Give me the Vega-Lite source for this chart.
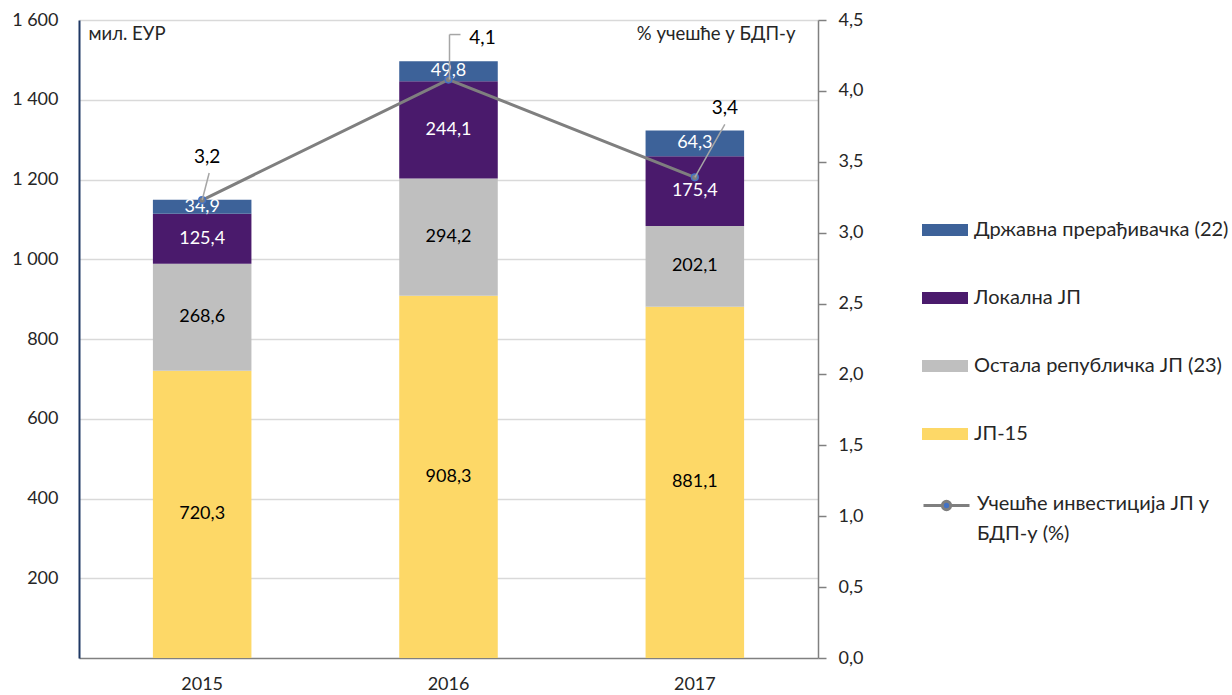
{
  "$schema": "https://vega.github.io/schema/vega-lite/v6.json",
  "width": 739,
  "height": 638,
  "autosize": {"type": "none"},
  "padding": {"left": 79, "top": 20, "right": 414, "bottom": 37},
  "background": "white",
  "config": {
    "font": "Lato",
    "view": {"stroke": null},
    "locale": {"number": {"decimal": ",", "thousands": " ", "grouping": [3], "currency": ["", ""]}},
    "axis": {"labelFont": "Lato", "labelFontSize": 18, "labelColor": "#262626", "titleFont": "Lato", "titleFontWeight": "normal", "titleFontSize": 18.5, "titleColor": "#262626"},
    "legend": {"labelFont": "Lato", "labelFontSize": 20, "labelColor": "#262626"}
  },
  "datasets": {
    "bars": [
      {"year": "2015", "series": "ЈП-15", "value": 720.3, "ord": 1},
      {"year": "2015", "series": "Остала републичка ЈП (23)", "value": 268.6, "ord": 2},
      {"year": "2015", "series": "Локална ЈП", "value": 125.4, "ord": 3},
      {"year": "2015", "series": "Државна прерађивачка (22)", "value": 34.9, "ord": 4},
      {"year": "2016", "series": "ЈП-15", "value": 908.3, "ord": 1},
      {"year": "2016", "series": "Остала републичка ЈП (23)", "value": 294.2, "ord": 2},
      {"year": "2016", "series": "Локална ЈП", "value": 244.1, "ord": 3},
      {"year": "2016", "series": "Државна прерађивачка (22)", "value": 49.8, "ord": 4},
      {"year": "2017", "series": "ЈП-15", "value": 881.1, "ord": 1},
      {"year": "2017", "series": "Остала републичка ЈП (23)", "value": 202.1, "ord": 2},
      {"year": "2017", "series": "Локална ЈП", "value": 175.4, "ord": 3},
      {"year": "2017", "series": "Државна прерађивачка (22)", "value": 64.3, "ord": 4}
    ],
    "line": [
      {"year": "2015", "pct": 3.23},
      {"year": "2016", "pct": 4.08},
      {"year": "2017", "pct": 3.39}
    ]
  },
  "encoding": {
    "x": {
      "field": "year", "type": "nominal",
      "scale": {"paddingInner": 0, "paddingOuter": 0},
      "axis": {"title": null, "labelAngle": 0, "ticks": false, "domainColor": "#808080", "domainWidth": 1.5, "labelPadding": 17, "grid": false}
    }
  },
  "layer": [
    {
      "data": {"name": "bars"},
      "layer": [
        {
          "mark": {"type": "bar", "width": {"band": 0.4}},
          "encoding": {
            "y": {
              "field": "value", "type": "quantitative", "stack": "zero",
              "scale": {"domain": [0, 1600], "nice": false},
              "axis": {
                "orient": "left", "values": [200, 400, 600, 800, 1000, 1200, 1400, 1600], "format": ",d",
                "ticks": false, "labelPadding": 21, "domainColor": "#1F3864", "domainWidth": 2,
                "grid": true, "gridColor": "#D9D9D9", "gridWidth": 1.5,
                "title": "мил. ЕУР", "titleAngle": 0, "titleAlign": "left", "titleBaseline": "top", "titleX": 9, "titleY": 4
              }
            },
            "color": {
              "field": "series", "type": "nominal",
              "scale": {
                "domain": ["Државна прерађивачка (22)", "Локална ЈП", "Остала републичка ЈП (23)", "ЈП-15"],
                "range": ["#3D6299", "#4A1A6C", "#BFBFBF", "#FDD867"]
              },
              "legend": {
                "title": null, "orient": "none", "legendX": 843, "legendY": 187,
                "symbolType": "M-1,-0.26H1V0.26H-1Z", "symbolSize": 2116, "symbolStrokeWidth": 0,
                "labelOffset": 6, "rowPadding": 35, "labelLimit": 400
              }
            },
            "order": {"field": "ord", "type": "quantitative"}
          }
        },
        {
          "mark": {"type": "text", "fontSize": 18, "baseline": "middle"},
          "encoding": {
            "y": {"field": "value", "type": "quantitative", "stack": "zero", "bandPosition": 0.5},
            "detail": {"field": "series"},
            "order": {"field": "ord", "type": "quantitative"},
            "text": {"field": "value", "type": "quantitative", "format": ".1f"},
            "color": {"condition": {"test": "datum.ord <= 2", "value": "#000000"}, "value": "#FFFFFF"}
          }
        }
      ]
    },
    {
      "data": {"name": "line"},
      "encoding": {
        "y": {
          "field": "pct", "type": "quantitative",
          "scale": {"domain": [0, 4.5], "nice": false},
          "axis": {
            "orient": "right", "values": [0, 0.5, 1, 1.5, 2, 2.5, 3, 3.5, 4, 4.5], "format": ".1f",
            "tickSize": 8, "tickColor": "#808080", "tickWidth": 1.5, "labelPadding": 12,
            "domainColor": "#808080", "domainWidth": 1.5, "grid": false,
            "title": "% учешће у БДП-у", "titleAngle": 0, "titleAlign": "right", "titleBaseline": "top", "titleX": -23, "titleY": 4
          }
        }
      },
      "layer": [
        {
          "mark": {"type": "line", "strokeWidth": 3, "color": "#7F7F7F"},
          "encoding": {
            "stroke": {
              "datum": "Учешће инвестиција ЈП у БДП-у (%)",
              "scale": {"range": ["#7F7F7F"]},
              "legend": {
                "title": null, "orient": "none", "legendX": 843, "legendY": 461,
                "symbolType": "M-1,0H-0.18M0.18,0H1M0.18,0A0.18,0.18 0 1 1 -0.18,0A0.18,0.18 0 1 1 0.18,0",
                "symbolSize": 2116, "symbolStrokeWidth": 3, "labelOffset": 6, "labelLimit": 400,
                "labelExpr": "['Учешће инвестиција ЈП у', 'БДП-у (%)']",
                "encode": {
                  "symbols": {"update": {"fill": {"value": "#4472C4"}}},
                  "labels": {"update": {"baseline": {"value": "top"}, "dy": {"value": -12}, "lineHeight": {"value": 30}}}
                }
              }
            }
          }
        },
        {
          "mark": {"type": "point", "filled": true, "size": 45, "fill": "#7F7F7F", "stroke": "#4472C4", "strokeWidth": 1.5, "opacity": 1}
        },
        {
          "transform": [{"filter": "datum.year == '2015'"}],
          "mark": {"type": "rule", "color": "#A6A6A6", "strokeWidth": 1.5, "x2Offset": 7, "y2Offset": -27},
          "encoding": {"y2": {"field": "pct"}, "x2": {"field": "year"}}
        },
        {
          "transform": [{"filter": "datum.year == '2016'"}],
          "mark": {"type": "rule", "color": "#A6A6A6", "strokeWidth": 1.5, "xOffset": 1, "x2Offset": 1, "y2Offset": -45},
          "encoding": {"y2": {"field": "pct"}, "x2": {"field": "year"}}
        },
        {
          "transform": [{"filter": "datum.year == '2016'"}],
          "mark": {"type": "rule", "color": "#A6A6A6", "strokeWidth": 1.5, "xOffset": 1, "x2Offset": 12, "yOffset": -45, "y2Offset": -45},
          "encoding": {"y2": {"field": "pct"}, "x2": {"field": "year"}}
        },
        {
          "transform": [{"filter": "datum.year == '2017'"}],
          "mark": {"type": "rule", "color": "#A6A6A6", "strokeWidth": 1.5, "x2Offset": 30, "y2Offset": -53},
          "encoding": {"y2": {"field": "pct"}, "x2": {"field": "year"}}
        },
        {
          "transform": [{"filter": "datum.year == '2015'"}],
          "mark": {"type": "text", "fontSize": 19, "color": "#000000", "dx": 5, "dy": -43},
          "encoding": {"text": {"field": "pct", "type": "quantitative", "format": ".1f"}}
        },
        {
          "transform": [{"filter": "datum.year == '2016'"}],
          "mark": {"type": "text", "fontSize": 19, "color": "#000000", "dx": 34, "dy": -42},
          "encoding": {"text": {"field": "pct", "type": "quantitative", "format": ".1f"}}
        },
        {
          "transform": [{"filter": "datum.year == '2017'"}],
          "mark": {"type": "text", "fontSize": 19, "color": "#000000", "dx": 30, "dy": -69},
          "encoding": {"text": {"field": "pct", "type": "quantitative", "format": ".1f"}}
        }
      ]
    }
  ],
  "resolve": {"scale": {"y": "independent"}}
}
